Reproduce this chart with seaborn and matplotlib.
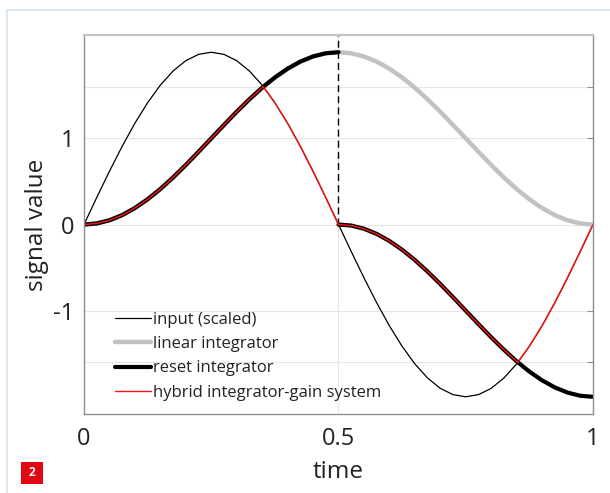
import matplotlib
matplotlib.use("Agg")
import matplotlib.pyplot as plt
from matplotlib.lines import Line2D
from matplotlib.patches import Rectangle
import seaborn as sns

sns.set_theme(style="white")
plt.rcParams["font.family"] = ["Open Sans", "DejaVu Sans"]

# sample times (one period of the input)
time_s = [0.000, 0.025, 0.050, 0.075, 0.100, 0.125, 0.150, 0.175, 0.200, 0.225,
          0.250, 0.275, 0.300, 0.325, 0.350, 0.375, 0.400, 0.425, 0.450, 0.475,
          0.500, 0.525, 0.550, 0.575, 0.600, 0.625, 0.650, 0.675, 0.700, 0.725,
          0.750, 0.775, 0.800, 0.825, 0.850, 0.875, 0.900, 0.925, 0.950, 0.975,
          1.000]

# scaled sinusoidal input
input_u = [0.000, 0.313, 0.618, 0.908, 1.176, 1.414, 1.618, 1.782, 1.902, 1.975,
           2.000, 1.975, 1.902, 1.782, 1.618, 1.414, 1.176, 0.908, 0.618, 0.313,
           0.000, -0.313, -0.618, -0.908, -1.176, -1.414, -1.618, -1.782, -1.902, -1.975,
           -2.000, -1.975, -1.902, -1.782, -1.618, -1.414, -1.176, -0.908, -0.618, -0.313,
           0.000]

# linear integrator output
linear_y = [0.000, 0.012, 0.049, 0.109, 0.191, 0.293, 0.412, 0.546, 0.691, 0.844,
            1.000, 1.156, 1.309, 1.454, 1.588, 1.707, 1.809, 1.891, 1.951, 1.988,
            2.000, 1.988, 1.951, 1.891, 1.809, 1.707, 1.588, 1.454, 1.309, 1.156,
            1.000, 0.844, 0.691, 0.546, 0.412, 0.293, 0.191, 0.109, 0.049, 0.012,
            0.000]

# reset integrator: before and after the reset at t = 0.5
reset_t1 = [0.000, 0.025, 0.050, 0.075, 0.100, 0.125, 0.150, 0.175, 0.200, 0.225,
            0.250, 0.275, 0.300, 0.325, 0.350, 0.375, 0.400, 0.425, 0.450, 0.475,
            0.500]
reset_y1 = [0.000, 0.012, 0.049, 0.109, 0.191, 0.293, 0.412, 0.546, 0.691, 0.844,
            1.000, 1.156, 1.309, 1.454, 1.588, 1.707, 1.809, 1.891, 1.951, 1.988,
            2.000]
reset_t2 = [0.500, 0.525, 0.550, 0.575, 0.600, 0.625, 0.650, 0.675, 0.700, 0.725,
            0.750, 0.775, 0.800, 0.825, 0.850, 0.875, 0.900, 0.925, 0.950, 0.975,
            1.000]
reset_y2 = [0.000, -0.012, -0.049, -0.109, -0.191, -0.293, -0.412, -0.546, -0.691, -0.844,
            -1.000, -1.156, -1.309, -1.454, -1.588, -1.707, -1.809, -1.891, -1.951, -1.988,
            -2.000]

# hybrid integrator-gain system output
hybrid_t = [0.000, 0.025, 0.050, 0.075, 0.100, 0.125, 0.150, 0.175, 0.200, 0.225,
            0.250, 0.275, 0.300, 0.325, 0.350, 0.352, 0.375, 0.400, 0.425, 0.450,
            0.475, 0.500, 0.525, 0.550, 0.575, 0.600, 0.625, 0.650, 0.675, 0.700,
            0.725, 0.750, 0.775, 0.800, 0.825, 0.850, 0.852, 0.875, 0.900, 0.925,
            0.950, 0.975, 1.000]
hybrid_y = [0.000, 0.012, 0.049, 0.109, 0.191, 0.293, 0.412, 0.546, 0.691, 0.844,
            1.000, 1.156, 1.309, 1.454, 1.588, 1.600, 1.414, 1.176, 0.908, 0.618,
            0.313, 0.000, -0.012, -0.049, -0.109, -0.191, -0.293, -0.412, -0.546, -0.691,
            -0.844, -1.000, -1.156, -1.309, -1.454, -1.588, -1.600, -1.414, -1.176, -0.908,
            -0.618, -0.313, 0.000]

x_ticks = [0, 0.5, 1]
x_labels = ["0", "0.5", "1"]
y_ticks = [-1.6, -1, 0, 1, 1.6]
y_labels = ["", "-1", "0", "1", ""]
y_limits = (-2.2, 2.2)

fig = plt.figure(figsize=(6.10, 4.93), dpi=100)
ax = fig.add_axes([0.1377, 0.1602, 0.8344, 0.7688])

ax.set_xlim(0, 1)
ax.set_ylim(*y_limits)
ax.set_xticks(x_ticks)
ax.set_xticklabels(x_labels)
ax.set_yticks(y_ticks)
ax.set_yticklabels(y_labels)
ax.grid(True, color="#e6e6e6", linewidth=0.8)
ax.set_axisbelow(True)

sns.lineplot(x=time_s, y=input_u, ax=ax, color="black", linewidth=0.9,
             sort=False, estimator=None, label="input (scaled)")
sns.lineplot(x=time_s, y=linear_y, ax=ax, color="#c2c2c2", linewidth=3.2,
             sort=False, estimator=None, label="linear integrator")
sns.lineplot(x=reset_t1, y=reset_y1, ax=ax, color="black", linewidth=3.0,
             sort=False, estimator=None, label="reset integrator")
sns.lineplot(x=reset_t2, y=reset_y2, ax=ax, color="black", linewidth=3.0,
             sort=False, estimator=None)
sns.lineplot(x=hybrid_t, y=hybrid_y, ax=ax, color="#ff1414", linewidth=1.0,
             sort=False, estimator=None, label="hybrid integrator-gain system")

# reset instant
ax.plot([reset_t2[0], reset_t2[0]], [reset_y2[0], y_limits[1]], color="black",
        linewidth=1.0, dashes=(5, 3), zorder=1.5)

for side in ("left", "right", "bottom"):
    ax.spines[side].set_color("#8f8f8f")
    ax.spines[side].set_linewidth(1.0)
ax.spines["top"].set_color("#c4c4c4")
ax.spines["top"].set_linewidth(1.6)

ax.tick_params(direction="in", length=4, width=0.8, color="#8f8f8f",
               right=True, top=False, labelsize=17, labelcolor="#222222")
ax.tick_params(axis="y", pad=7)
ax.tick_params(axis="x", pad=9)

ax.set_xlabel("time", fontsize=17.5, color="#222222", labelpad=7)
ax.set_ylabel("signal value", fontsize=17.5, color="#222222", labelpad=3)

leg = ax.legend(loc="lower left", bbox_to_anchor=(0.061, 0.035), frameon=False,
                fontsize=12, handlelength=2.15, handletextpad=0.15,
                labelspacing=0.5, borderpad=0, borderaxespad=0)
for txt in leg.get_texts():
    txt.set_color("#222222")

# page frame
frame_col = "#d5e3f5"
fig.add_artist(Line2D([7 / 610, 7 / 610], [0, 1 - 10 / 493], color=frame_col,
                      linewidth=1.2, transform=fig.transFigure))
fig.add_artist(Line2D([7 / 610, 1], [1 - 10 / 493, 1 - 10 / 493], color=frame_col,
                      linewidth=1.2, transform=fig.transFigure))

# figure number badge
fig.add_artist(Rectangle((21 / 610, 1 - 484 / 493), 22 / 610, 22 / 493,
                         facecolor="#e30613", edgecolor="none",
                         transform=fig.transFigure))
fig.text(32 / 610, 1 - 473 / 493, "2", color="white", fontsize=8.5,
         fontweight="bold", ha="center", va="center")

fig.savefig("out.png", dpi=100)
